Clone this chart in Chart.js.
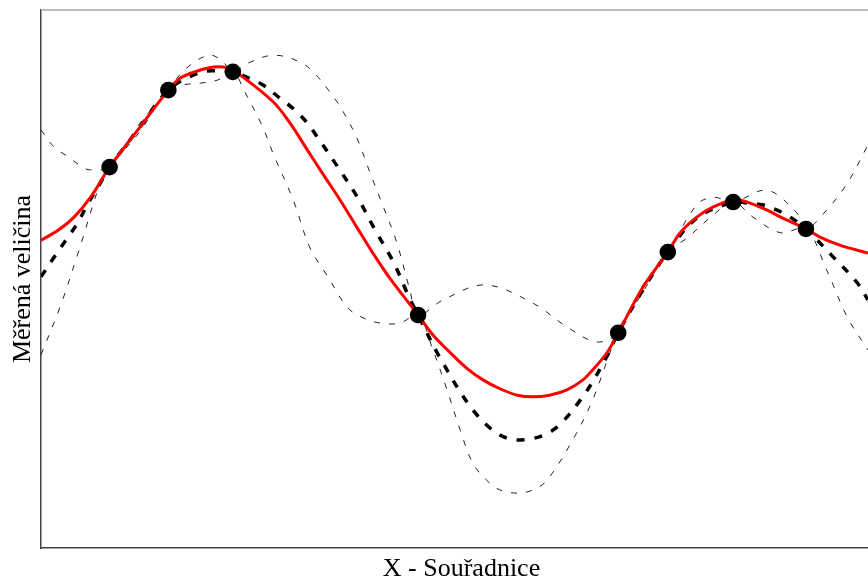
<!DOCTYPE html>
<html lang="cs">
<head>
<meta charset="UTF-8">
<title>Měřená veličina</title>
<script src="https://cdn.jsdelivr.net/npm/chart.js"></script>
<style>
    html, body {
        margin: 0;
        padding: 0;
        overflow: hidden;
        background: #fff;
    }
    /* plot runs a bit past the right edge, like the cropped original */
    .wrap {
        width: 882px;
        height: 581px;
    }
</style>
</head>
<body>
<div class="wrap"><canvas id="chart"></canvas></div>
<script>
// measured points
const pointX = [8.3, 15.4, 23.2, 45.6, 69.8, 75.8, 83.7, 92.5];
const pointY = [70.8, 85.1, 88.5, 43.3, 40.0, 55.0, 64.3, 59.3];

// true function (red)
const trueX = [0, 2.1, 4.0, 6.0, 8.3, 11.9, 15.4, 16.9, 19.0, 20.9, 22.6, 24.1, 28.1, 30.1, 32.2, 34.1, 36.2, 38.2, 40.1, 42.2, 44.3, 45.6, 47.4, 49.5, 51.5, 53.4, 55.5, 57.6, 59.5, 61.5, 63.6, 65.5, 66.7, 68.4, 69.8, 72.8, 75.8, 77.3, 79.3, 81.3, 83.7, 85.4, 87.8, 89.7, 92.5, 94.2, 96.6, 100];
const trueY = [57.2, 59.1, 61.5, 65.2, 70.8, 78.1, 85.1, 87.4, 88.7, 89.4, 89.2, 87.9, 82.9, 79.0, 74.0, 69.5, 64.6, 59.6, 54.9, 50.1, 45.9, 43.3, 39.6, 36.3, 33.4, 31.3, 29.6, 28.4, 28.1, 28.4, 29.4, 31.2, 33.1, 36.2, 40.0, 48.5, 55.0, 58.6, 61.5, 63.4, 64.7, 64.3, 62.8, 61.3, 59.3, 57.8, 56.3, 54.8];

// prediction mean (thick dashed)
const meanX = [0, 1.6, 3.0, 4.5, 5.7, 6.9, 8.3, 11.9, 15.4, 19.0, 20.9, 23.2, 24.9, 26.8, 28.9, 30.7, 32.2, 33.5, 35.9, 38.3, 40.4, 42.6, 44.4, 45.6, 48.2, 52.2, 55.5, 58.3, 61.9, 65.5, 68.4, 69.8, 72.8, 75.8, 79.3, 83.7, 85.4, 87.2, 89.0, 90.6, 92.5, 95.8, 98.7, 100];
const meanY = [50.4, 54.1, 57.2, 60.6, 64.1, 67.1, 70.8, 78.1, 85.1, 88.3, 88.7, 88.5, 87.5, 86.1, 83.6, 81.4, 79.0, 76.2, 70.8, 65.1, 59.1, 53.2, 47.0, 43.3, 35.5, 25.7, 21.0, 20.1, 21.9, 28.1, 35.5, 40.0, 48.0, 55.0, 61.3, 64.3, 64.1, 63.8, 62.8, 61.5, 59.3, 54.1, 49.3, 46.1];

// upper / lower bounds (thin dashed)
const upperX = [0, 1.6, 3.3, 5.2, 6.0, 8.3, 11.9, 15.4, 17.3, 20.2, 21.8, 23.2, 25.0, 28.2, 31.6, 33.5, 34.9, 36.2, 38.2, 39.8, 41.4, 43.0, 44.6, 45.6, 48.6, 53.7, 59.5, 63.6, 67.2, 69.8, 72.8, 75.8, 79.3, 81.3, 83.7, 87.8, 91.4, 92.5, 95.0, 97.5, 100];
const upperY = [77.7, 74.5, 72.7, 70.6, 70.3, 70.8, 78.8, 85.1, 88.8, 91.6, 90.7, 88.5, 90.1, 91.6, 90.1, 87.5, 84.8, 82.0, 76.2, 69.7, 63.4, 56.9, 48.0, 43.3, 46.1, 48.9, 45.5, 41.1, 38.3, 40.0, 48.9, 55.0, 63.8, 65.2, 64.3, 66.5, 62.3, 59.3, 62.8, 67.8, 74.9];
const lowerX = [0, 2.4, 4.6, 7.3, 8.3, 11.9, 15.4, 17.3, 19.3, 21.4, 23.2, 24.7, 26.8, 28.1, 30.5, 32.5, 34.7, 37.0, 38.8, 41.0, 43.4, 45.6, 47.4, 49.1, 50.7, 52.2, 53.9, 55.5, 57.6, 59.5, 61.2, 64.3, 66.7, 69.8, 72.8, 75.8, 78.1, 81.3, 83.7, 86.1, 89.4, 92.5, 95.0, 97.5, 100];
const lowerY = [35.9, 45.2, 55.4, 68.4, 70.8, 77.3, 85.1, 86.1, 86.4, 87.0, 88.5, 84.6, 78.3, 73.2, 64.7, 55.9, 50.4, 44.8, 42.9, 41.8, 41.8, 43.3, 36.8, 29.4, 21.9, 15.8, 12.6, 10.8, 10.2, 10.8, 12.6, 20.1, 27.5, 40.0, 47.6, 55.0, 57.6, 61.9, 64.3, 61.5, 58.6, 59.3, 51.7, 42.9, 36.8];

function pts(xs, ys) {
    return xs.map((x, i) => ({ x: x, y: ys[i] }));
}

// light grey line along the top of the plot
const topLine = {
    id: 'topLine',
    afterDraw(chart) {
        const a = chart.chartArea;
        const ctx = chart.ctx;
        ctx.save();
        ctx.strokeStyle = '#bdbdbd';
        ctx.lineWidth = 2;
        ctx.beginPath();
        ctx.moveTo(a.left, a.top);
        ctx.lineTo(a.right, a.top);
        ctx.stroke();
        ctx.restore();
    }
};

const lineBase = {
    pointRadius: 0,
    fill: false,
    tension: 0.35
};

new Chart(document.getElementById('chart'), {
    type: 'line',
    data: {
        datasets: [
            {
                label: 'Měření',
                data: pts(pointX, pointY),
                showLine: false,
                pointRadius: 8.3,
                pointBackgroundColor: '#000',
                pointBorderWidth: 0,
                order: 0
            },
            Object.assign({
                label: 'Skutečná funkce',
                data: pts(trueX, trueY),
                borderColor: '#ff0000',
                borderWidth: 3,
                order: 1
            }, lineBase),
            Object.assign({
                label: 'Odhad',
                data: pts(meanX, meanY),
                borderColor: '#000',
                borderWidth: 3.5,
                borderDash: [8, 10],
                order: 2
            }, lineBase),
            Object.assign({
                label: 'Horní mez',
                data: pts(upperX, upperY),
                borderColor: '#222',
                borderWidth: 1,
                borderDash: [6, 9],
                order: 3
            }, lineBase),
            Object.assign({
                label: 'Dolní mez',
                data: pts(lowerX, lowerY),
                borderColor: '#222',
                borderWidth: 1,
                borderDash: [6, 9],
                order: 4
            }, lineBase)
        ]
    },
    options: {
        responsive: true,
        maintainAspectRatio: false,
        animation: false,
        layout: {
            autoPadding: false,
            padding: { left: 0, right: 0, top: 10, bottom: 0 }
        },
        plugins: {
            legend: { display: false },
            tooltip: { enabled: false }
        },
        scales: {
            x: {
                type: 'linear',
                min: 0,
                max: 101.7,
                grid: { display: false, drawTicks: false },
                ticks: { display: false },
                border: { color: '#444', width: 1.5 },
                title: {
                    display: true,
                    text: 'X - Souřadnice',
                    color: '#000',
                    font: { family: 'Liberation Serif', size: 26, lineHeight: 1 },
                    padding: { top: 8, bottom: -1 }
                }
            },
            y: {
                type: 'linear',
                min: 0,
                max: 100,
                grid: { display: false, drawTicks: false },
                ticks: { display: false },
                border: { color: '#444', width: 1.5 },
                title: {
                    display: true,
                    text: 'Měřená veličina',
                    color: '#000',
                    font: { family: 'Liberation Serif', size: 26 },
                    padding: { top: 7.4, bottom: 2.4 }
                }
            }
        }
    },
    plugins: [topLine]
});
</script>
</body>
</html>
